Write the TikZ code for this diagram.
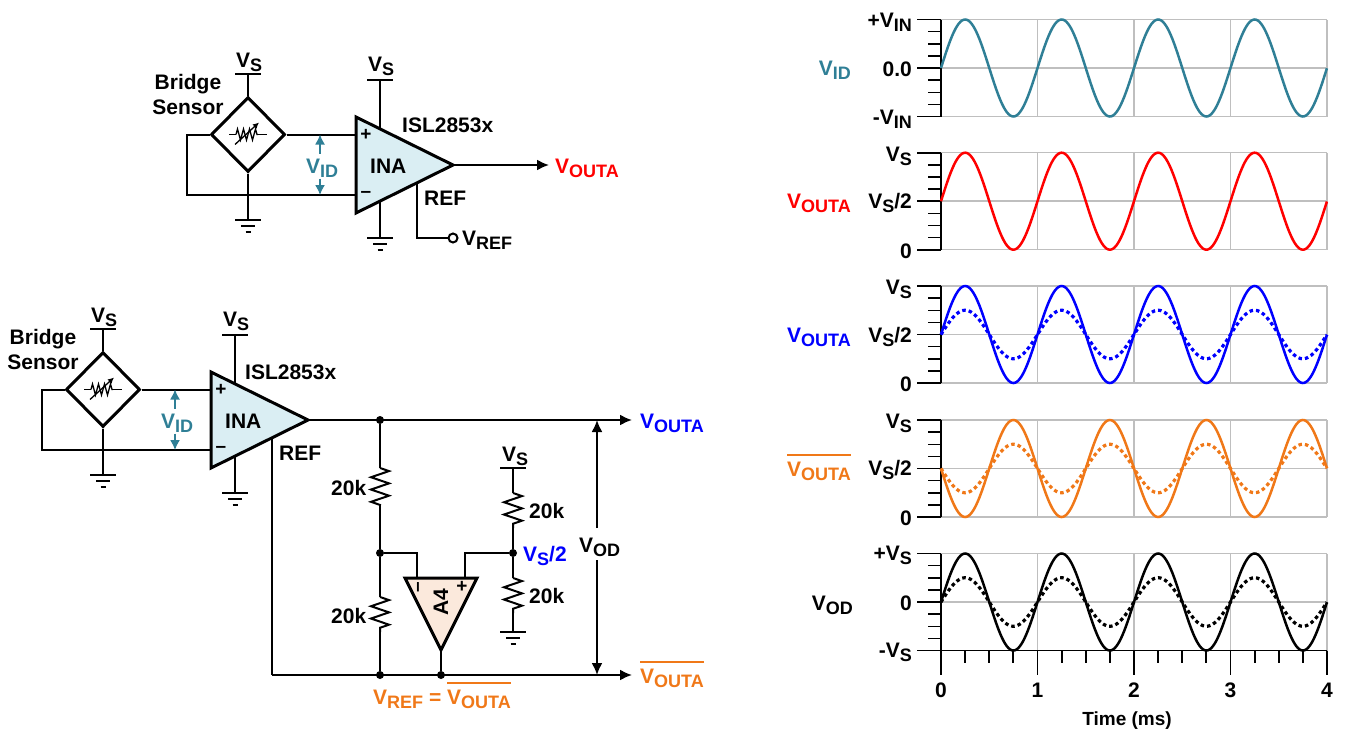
\documentclass[tikz,border=0pt]{standalone}
\usepackage{fontspec}
\setmainfont{Liberation Sans}
\usetikzlibrary{shapes.geometric, arrows.meta, decorations.pathmorphing}

\definecolor{idteal}{HTML}{2F7F96}
\definecolor{inablue}{HTML}{DAEEF3}
\definecolor{apeach}{HTML}{FBE9DC}
\definecolor{outorange}{HTML}{F07818}
\definecolor{gridgray}{HTML}{BFBFBF}

\newcommand{\lowtxt}[1]{\raisebox{-4pt}{\fontsize{18}{18}\selectfont #1}}
\newcommand{\barred}[1]{\setbox0=\hbox{#1}\rlap{\raisebox{20pt}{\rule{\wd0}{2pt}}}\box0}
\newcommand{\vout}{V\lowtxt{OUTA}}

\tikzset{
  wire/.style={line width=2pt},
  heavy/.style={line width=3pt, line join=miter},
  rstyle/.style={line width=2pt, decorate, decoration={zigzag, segment length=12.3pt, amplitude=9pt}},
  lab/.style={inner sep=0, anchor=base west, font=\fontsize{21}{25}\selectfont\bfseries},
  labr/.style={lab, anchor=base east},
  sgn/.style={inner sep=0, font=\fontsize{19}{19}\selectfont\bfseries},
  dot/.style={circle, fill=black, inner sep=0, minimum size=8pt},
  gnd/.pic={
    \draw[line width=2.2pt] (-13,0) -- (13,0);
    \draw[line width=2pt] (-7,6) -- (7,6);
    \draw[line width=2pt] (-2.5,12) -- (2.5,12);
  },
  rail/.pic={\draw[line width=2.2pt] (-13,0) -- (13,0);},
  sensorstage/.pic={
    \coordinate (-vsa) at (0,-60.5);
    \coordinate (-gnda) at (0,85.5);
    \coordinate (-wl) at (-61,0);
    \coordinate (-wb) at (-61,60.5);
    \coordinate (-inp) at (108,0);
    \coordinate (-inm) at (108,60.5);
    \coordinate (-inat) at (108,-17.5);
    \coordinate (-inab) at (108,78.5);
    \coordinate (-tip) at (205,30.5);
    \coordinate (-ref) at (169,48.5);
    \coordinate (-vsb) at (132,-54.5);
    \coordinate (-gndb) at (132,103.5);
    \coordinate (-idt) at (72,0);
    \coordinate (-idu) at (72,19);
    \coordinate (-idd) at (72,44);
    \coordinate (-idb) at (72,60.5);
    \coordinate (-ra) at (-19,0);
    \coordinate (-rb) at (-12,0);
    \coordinate (-rc) at (10,0);
    \coordinate (-rd) at (19,0);
    \coordinate (-re) at (-13,10);
    \coordinate (-rf) at (11,-12);

    \node[diamond, draw, heavy, fill=white, minimum width=74pt, minimum height=75pt, inner sep=0] (-dia) at (0,0) {};
    \draw[wire] (-vsa) -- (-dia.north);
    \draw[wire] (-dia.south) -- (-gnda);
    \draw[wire] (-dia.west) -- (-wl) -- (-wb) -- (-inm);
    \draw[wire] (-dia.east) -- (-inp);
    \draw[wire] (-vsb) -- (-gndb);
    \pic at (-vsa) {rail};
    \pic at (-vsb) {rail};
    \pic at (-gnda) {gnd};
    \pic at (-gndb) {gnd};

    \draw[heavy, fill=inablue] (-inat) -- (-tip) -- (-inab) -- cycle;
    \node[sgn] (-plus) at (118,0) {+};
    \node[sgn] (-minus) at (118,60) {–};

    \draw[line width=1.3pt] (-ra) -- (-rb);
    \draw[line width=1.3pt, decorate, decoration={zigzag, segment length=6pt, amplitude=5.5pt}] (-rb) -- (-rc);
    \draw[line width=1.3pt] (-rc) -- (-rd);
    \draw[line width=1.3pt, -{Latex[length=6pt, width=6pt]}] (-re) -- (-rf);

    \draw[idteal, line width=1.5pt, -{Latex[length=10pt, width=10pt]}] (-idu) -- (-idt);
    \draw[idteal, line width=1.5pt, -{Latex[length=10pt, width=10pt]}] (-idd) -- (-idb);

    \node[lab, align=center, anchor=center] (-brg) at (-60,-40) {Bridge\\Sensor};
    \node[lab] (-vs1) at (-12,-67.5) {V\lowtxt{S}};
    \node[lab] (-vs2) at (120,-63) {V\lowtxt{S}};
    \node[lab] (-ina) at (122,38.5) {INA};
    \node[lab] (-reft) at (176,70.5) {REF};
    \node[lab, text=idteal] (-vid) at (58,38.5) {V\lowtxt{ID}};
  }
}

\begin{document}
\begin{tikzpicture}[x=1pt, y=-1pt, >={Latex[length=12pt, width=11pt]}]
\useasboundingbox (0,0) rectangle (1346,731);

\pic (up) at (248,134.5) {sensorstage};
\pic (lo) at (103,389.5) {sensorstage};

\node[lab] (islup) at (402,132) {ISL2853x};
\node[lab] (isllo) at (245,379) {ISL2853x};

\node[lab, text=red] (voutred) at (555,173) {\vout};
\coordinate (outup) at (549,165);
\draw[wire, ->] (up-tip) -- (outup);

\node[draw, wire, circle, inner sep=0, minimum size=9pt] (vrefpin) at (453,238) {};
\node[lab] (vref) at (462,245) {V\lowtxt{REF}};
\coordinate (refcorner) at (417,238);
\draw[wire] (up-ref) -- (refcorner) -- (vrefpin);

\coordinate (lopout) at (632,420);
\coordinate (lonout) at (632,675);
\coordinate (refbot) at (272,675);
\coordinate (lnode) at (380,420);
\coordinate (r1a) at (380,468);
\coordinate (r1b) at (380,505);
\coordinate (r2a) at (380,597);
\coordinate (r2b) at (380,632);
\coordinate (r3a) at (513,493);
\coordinate (r3b) at (513,528);
\coordinate (r4a) at (513,578);
\coordinate (r4b) at (513,613);
\coordinate (vs3) at (513,468);
\coordinate (gnd3) at (513,632);
\coordinate (atl) at (405,578);
\coordinate (atr) at (477,578);
\coordinate (atip) at (441,650);
\coordinate (ainm) at (417,578);
\coordinate (ainp) at (465,578);
\coordinate (ainmc) at (417,553);
\coordinate (ainpc) at (465,553);
\coordinate (odt) at (597,420);
\coordinate (odu) at (597,528);
\coordinate (odd) at (597,560);
\coordinate (odb) at (597,675);

\draw[wire, ->] (lo-tip) -- (lopout);
\draw[wire] (lo-ref) -- (refbot);
\draw[wire, ->] (refbot) -- (lonout);

\node[dot] (dtop) at (lnode) {};
\node[dot] (dmid) at (380,553) {};
\node[dot] (dbot) at (380,675) {};
\node[dot] (dout) at (441,675) {};
\node[dot] (dvs) at (513,553) {};

\draw[wire] (dtop) -- (r1a);
\draw[rstyle] (r1a) -- (r1b);
\draw[wire] (r1b) -- (dmid) -- (r2a);
\draw[rstyle] (r2a) -- (r2b);
\draw[wire] (r2b) -- (dbot);

\draw[wire] (vs3) -- (r3a);
\draw[rstyle] (r3a) -- (r3b);
\draw[wire] (r3b) -- (dvs) -- (r4a);
\draw[rstyle] (r4a) -- (r4b);
\draw[wire] (r4b) -- (gnd3);
\pic at (vs3) {rail};
\pic at (gnd3) {gnd};

\draw[wire] (dmid) -- (ainmc) -- (ainm);
\draw[wire] (dvs) -- (ainpc) -- (ainp);
\draw[wire] (atip) -- (dout);
\draw[heavy, fill=apeach] (atl) -- (atr) -- (atip) -- cycle;
\node[lab, rotate=90, anchor=center] (a4) at (441,602) {A4};
\node[sgn, rotate=90] (a4m) at (420,587) {–};
\node[sgn] (a4p) at (462,587) {+};

\draw[wire, ->] (odu) -- (odt);
\draw[wire, ->] (odd) -- (odb);

\node[lab] (r1t) at (331,495) {20k};
\node[lab] (r2t) at (331,623) {20k};
\node[lab] (r3t) at (529,518) {20k};
\node[lab] (r4t) at (529,603) {20k};
\node[lab] (vs3t) at (502,461) {V\lowtxt{S}};
\node[lab, text=blue] (vs2t) at (523,561) {V\lowtxt{S}/2};
\node[lab] (vodt) at (579,552) {V\lowtxt{OD}};
\node[lab, text=blue] (voutb) at (640,428) {\vout};
\node[lab, text=outorange] (voutn) at (640,683) {\barred{\vout}};
\node[lab, text=outorange] (vrefeq) at (373,704) {V\lowtxt{REF} = \barred{\vout}};

\foreach \ct in {19.5,152.7,286,420,553.5} {
  \foreach \gx in {1,2,3,4}
    \draw[gridgray, line width=1.5pt] (941+96.5*\gx,\ct) -- (941+96.5*\gx,\ct+97);
  \foreach \gy in {0,48.5,97}
    \draw[gridgray, line width=1.5pt] (941,\ct+\gy) -- (1327,\ct+\gy);
  \foreach \k in {0,...,8}
    \draw[black, line width=1.5pt] (928,\ct+\k*12.125) -- (941,\ct+\k*12.125);
  \foreach \gy in {0,48.5,97}
    \draw[black, line width=1.8pt] (917,\ct+\gy) -- (941,\ct+\gy);
  \draw[black, line width=1.8pt] (941,\ct) -- (941,\ct+97);
}

\draw[black, line width=1.8pt] (941,650.5) -- (1327,650.5);
\foreach \gx in {0,1,2,3,4}
  \draw[black, line width=1.8pt] (941+96.5*\gx,650.5) -- (941+96.5*\gx,675);
\foreach \gx in {0.25,0.5,0.75,1.25,1.5,1.75,2.25,2.5,2.75,3.25,3.5,3.75}
  \draw[black, line width=1.8pt] (941+96.5*\gx,650.5) -- (941+96.5*\gx,663);

\foreach \ct/\cc/\ca in {19.5/idteal/1, 152.7/red/1, 286/blue/1, 420/outorange/-1, 553.5/black/1}
  \draw[\cc, line width=2.5pt, domain=0:4, samples=241, smooth] plot ({941+96.5*\x},{\ct+48.5-\ca*48.5*sin(360*\x)});
\foreach \ct/\cc/\ca in {286/blue/1, 420/outorange/-1, 553.5/black/1}
  \draw[\cc, line width=3.2pt, dash pattern=on 3.5pt off 3pt, domain=0:4, samples=241, smooth] plot ({941+96.5*\x},{\ct+48.5-\ca*24.25*sin(360*\x)});

\node[labr] (c1a) at (912,27) {+V\lowtxt{IN}};
\node[labr] (c1b) at (912,76) {0.0};
\node[labr] (c1c) at (912,124) {-V\lowtxt{IN}};
\node[labr] (c2a) at (912,161) {V\lowtxt{S}};
\node[labr] (c2b) at (912,208.5) {V\lowtxt{S}/2};
\node[labr] (c2c) at (912,258) {0};
\node[labr] (c3a) at (912,294.5) {V\lowtxt{S}};
\node[labr] (c3b) at (912,342) {V\lowtxt{S}/2};
\node[labr] (c3c) at (912,391.5) {0};
\node[labr] (c4a) at (912,428) {V\lowtxt{S}};
\node[labr] (c4b) at (912,475.5) {V\lowtxt{S}/2};
\node[labr] (c4c) at (912,525) {0};
\node[labr] (c5a) at (912,560) {+V\lowtxt{S}};
\node[labr] (c5b) at (912,610) {0};
\node[labr] (c5c) at (912,657) {-V\lowtxt{S}};

\node[labr, text=idteal] (n1) at (851,75) {V\lowtxt{ID}};
\node[labr, text=red] (n2) at (851,208) {\vout};
\node[labr, text=blue] (n3) at (851,342) {\vout};
\node[labr, text=outorange] (n4) at (851,476) {\barred{\vout}};
\node[labr] (n5) at (853,610) {V\lowtxt{OD}};

\foreach \gx in {0,1,2,3,4}
  \node[lab, anchor=base] (tk\gx) at (941+96.5*\gx,697) {\gx};
\node[lab, anchor=base, font=\fontsize{19}{23}\selectfont\bfseries] (timet) at (1127,725) {Time (ms)};
\end{tikzpicture}
\end{document}
